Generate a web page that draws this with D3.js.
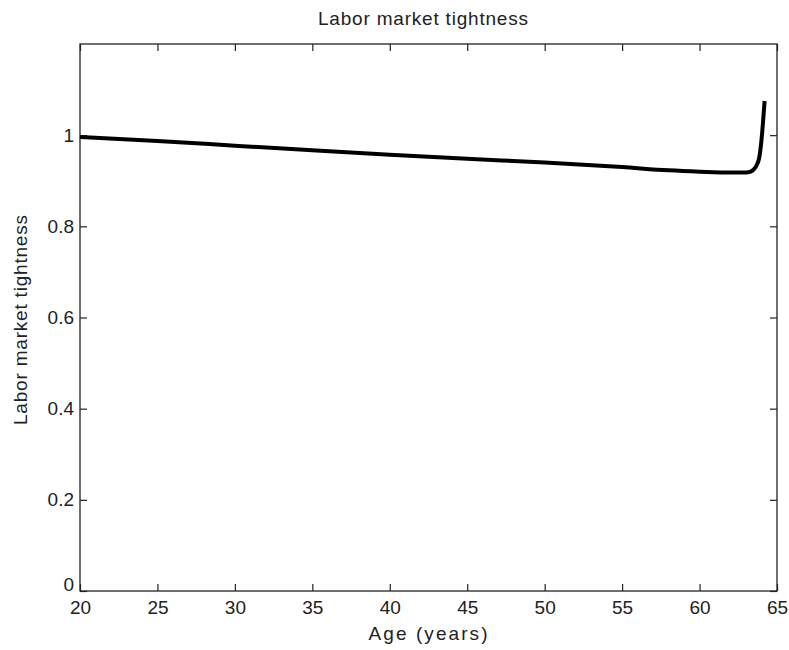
<!DOCTYPE html>
<html>
<head>
<meta charset="utf-8">
<script src="https://cdn.jsdelivr.net/npm/d3@7"></script>
<style>
  body { margin: 0; background: #fff; }
  svg text { font-family: "Liberation Sans", Arial, sans-serif; fill: #222; }
</style>
</head>
<body>
<svg id="chart" width="789" height="650"></svg>
<script>
// data
const ages = [20, 25, 30, 35, 40, 45, 50, 55, 58, 60, 62, 63, 63.3, 63.5, 63.7, 63.85, 64.0, 64.1, 64.2];
const tightness = [0.996, 0.987, 0.977, 0.967, 0.957, 0.948, 0.940, 0.930, 0.923, 0.920, 0.918, 0.918, 0.920, 0.925, 0.935, 0.950, 0.990, 1.030, 1.075];
const xTicks = [20, 25, 30, 35, 40, 45, 50, 55, 60, 65];
const yTicks = [0, 0.2, 0.4, 0.6, 0.8, 1];

const plotLeft = 80, plotRight = 777, plotTop = 44, plotBottom = 591;
const svg = d3.select("#chart");

const x = d3.scaleLinear().domain([20, 65]).range([plotLeft, plotRight]);
const y = d3.scaleLinear().domain([0, 1.2]).range([plotBottom, plotTop]);

// frame
svg.append("rect")
    .attr("x", plotLeft).attr("y", plotTop)
    .attr("width", plotRight - plotLeft).attr("height", plotBottom - plotTop)
    .attr("fill", "#fff").attr("stroke", "#222").attr("stroke-width", 1.3);

// axes with inward ticks
function styleAxis(g) {
    g.select(".domain").remove();
    g.selectAll("line").attr("stroke", "#222").attr("stroke-width", 1.2);
    g.selectAll("text").attr("font-size", 19);
}

svg.append("g").attr("transform", `translate(0,${plotBottom})`)
    .call(d3.axisBottom(x).tickValues(xTicks).tickSizeInner(-7).tickSizeOuter(0).tickPadding(10).tickFormat(d3.format("d")))
    .call(styleAxis);
svg.append("g").attr("transform", `translate(0,${plotTop})`)
    .call(d3.axisTop(x).tickValues(xTicks).tickSizeInner(-7).tickSizeOuter(0).tickFormat(""))
    .call(styleAxis);
const yAxis = svg.append("g").attr("transform", `translate(${plotLeft},0)`)
    .call(d3.axisLeft(y).tickValues(yTicks).tickSizeInner(-7).tickSizeOuter(0).tickPadding(6).tickFormat(d => d === 0 || d === 1 ? d3.format("d")(d) : d3.format(".1f")(d)))
    .call(styleAxis);
// lift the "0" label so it clears the "20" below it
yAxis.selectAll(".tick").filter(d => d === 0).select("text").attr("dy", "-0.05em");
svg.append("g").attr("transform", `translate(${plotRight},0)`)
    .call(d3.axisRight(y).tickValues(yTicks).tickSizeInner(-7).tickSizeOuter(0).tickFormat(""))
    .call(styleAxis);

// the line
const line = d3.line()
    .x((d, i) => x(ages[i]))
    .y(d => y(d))
    .curve(d3.curveMonotoneX);

svg.append("path")
    .datum(tightness)
    .attr("d", line)
    .attr("fill", "none")
    .attr("stroke", "#000")
    .attr("stroke-width", 4);

// texts
svg.append("text").attr("x", 423).attr("y", 25)
    .attr("text-anchor", "middle").attr("font-size", 19)
    .attr("textLength", 210).attr("lengthAdjust", "spacing")
    .text("Labor market tightness");
svg.append("text").attr("x", 428).attr("y", 640)
    .attr("text-anchor", "middle").attr("font-size", 19)
    .attr("textLength", 119).attr("lengthAdjust", "spacing")
    .text("Age (years)");
svg.append("text")
    .attr("transform", `translate(27,320) rotate(-90)`)
    .attr("text-anchor", "middle").attr("font-size", 19)
    .attr("textLength", 210).attr("lengthAdjust", "spacing")
    .text("Labor market tightness");
</script>
</body>
</html>
